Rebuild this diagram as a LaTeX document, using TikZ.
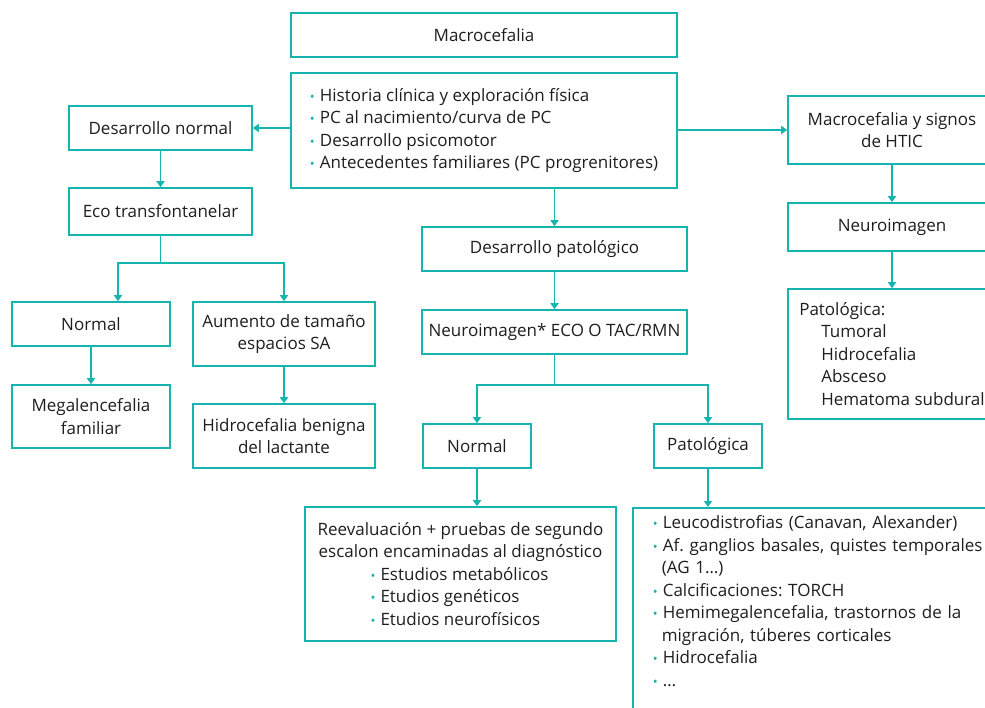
\documentclass[tikz,border=0pt]{standalone}
\usepackage{fontspec}
\setmainfont{Open Sans}
\frenchspacing
\usetikzlibrary{positioning, arrows.meta, calc}
\definecolor{verde}{RGB}{22,180,174}
\definecolor{tinta}{RGB}{30,30,30}
\newcommand{\vin}{\makebox[10pt][l]{\raisebox{0pt}{\textcolor{verde}{\fontsize{13}{13}\selectfont\textbullet}}}}
\newcommand{\fila}[1]{\makebox[180pt][l]{\vin#1}}

\begin{document}
\begin{tikzpicture}[x=1pt, y=-1pt, >={Triangle[width=8pt,length=6pt]},
    caja/.style={draw=verde, line width=1.6pt, text=tinta, inner sep=4pt, align=center, font=\fontsize{17}{22.5}\selectfont},
    flecha/.style={->, draw=verde, line width=1.6pt}]
    \useasboundingbox (0,0) rectangle (985,707);
    \clip (0,0) rectangle (985,707);
    \node[caja, minimum width=386pt, minimum height=44pt] (mac) at (484,35) {Macrocefalia};
    \node[caja, minimum width=386pt, minimum height=115pt, align=left] (hist) at (484,130.5) {\vin Historia clínica y exploración física\\ \vin PC al nacimiento/curva de PC\\ \vin Desarrollo psicomotor\\ \vin Antecedentes familiares (PC progrenitores)};
    \node[caja, minimum width=183pt, minimum height=44pt] (dnorm) at (160.5,128) {Desarrollo normal};
    \node[caja, minimum width=183pt, minimum height=47pt] (eco) at (160.5,211.5) {Eco transfontanelar};
    \node[caja, minimum width=158pt, minimum height=44pt] (norm1) at (91,324) {Normal};
    \node[caja, minimum width=182pt, minimum height=64pt] (aum) at (284,334) {Aumento de tamaño\\espacios SA};
    \node[caja, minimum width=158pt, minimum height=63pt] (mega) at (91,416.5) {Megalencefalia\\familiar};
    \node[caja, minimum width=182pt, minimum height=64pt] (hbl) at (284,436) {Hidrocefalia benigna\\del lactante};
    \node[caja, minimum width=265pt, minimum height=44pt] (dpat) at (554.5,249) {Desarrollo patológico};
    \node[caja, minimum width=265pt, minimum height=44pt] (neuro) at (554.5,332) {Neuroimagen* ECO O TAC/RMN};
    \node[caja, minimum width=108pt, minimum height=44pt] (norm2) at (477,446) {Normal};
    \node[caja, minimum width=108pt, minimum height=44pt] (pat2) at (708,446) {Patológica};
    \node[caja, minimum width=311pt, minimum height=134pt] (reev) at (460.5,574) {Reevaluación + pruebas de segundo\\escalon encaminadas al diagnóstico\\\fila{Estudios metabólicos}\\\fila{Etudios genéticos}\\\fila{Etudios neurofísicos}};
    \node[caja, anchor=north west, align=left, text width=340pt, inner xsep=20pt, inner ysep=8pt] (lista) at (632,507) {\vin Leucodistrofias (Canavan, Alexander)\\
        \vin Af. ganglios basales, quistes temporales\\
        \hspace*{9pt}(AG 1\ldots)\\
        \vin Calcificaciones: TORCH\\
        \vin Hemimegalencefalia, trastornos de la\\
        \hspace*{9pt}migración, túberes corticales\\
        \vin Hidrocefalia\\
        \vin \ldots\\
        \mbox{}};
    \node[caja, minimum width=208pt, minimum height=68pt] (htic) at (892,130) {Macrocefalia y signos\\de HTIC};
    \node[caja, minimum width=208pt, minimum height=48pt] (neuro2) at (892,227) {Neuroimagen};
    \node[caja, minimum width=208pt, minimum height=130pt, align=left] (pat3) at (892,354) {Patológica:\\\hspace*{22pt}Tumoral\\\hspace*{22pt}Hidrocefalia\\\hspace*{22pt}Absceso\\\hspace*{22pt}Hematoma subdural};
    \coordinate (bifI) at ($(eco.south)+(0,27)$);
    \coordinate (bifD) at ($(neuro.south)+(0,30)$);
    \draw[flecha] (hist.west |- dnorm.east) -- (dnorm.east);
    \draw[flecha] (hist.east |- htic.west) -- (htic.west);
    \draw[flecha] (dnorm) -- (eco);
    \draw[flecha] (eco.south) -- (bifI) -| ($(norm1.north)+(27,0)$);
    \draw[flecha] (bifI) -| (aum.north);
    \draw[flecha] (norm1) -- (mega);
    \draw[flecha] (aum) -- (hbl);
    \draw[flecha] (hist.south -| dpat.north) -- (dpat.north);
    \draw[flecha] (dpat) -- (neuro);
    \draw[flecha] (neuro.south) -- (bifD) -| (norm2.north);
    \draw[flecha] (bifD) -| (pat2.north);
    \draw[flecha] (norm2.south) -- (norm2.south |- reev.north);
    \draw[flecha] (pat2.south) -- (pat2.south |- lista.north);
    \draw[flecha] (htic) -- (neuro2);
    \draw[flecha] (neuro2) -- (pat3);
\end{tikzpicture}
\end{document}
